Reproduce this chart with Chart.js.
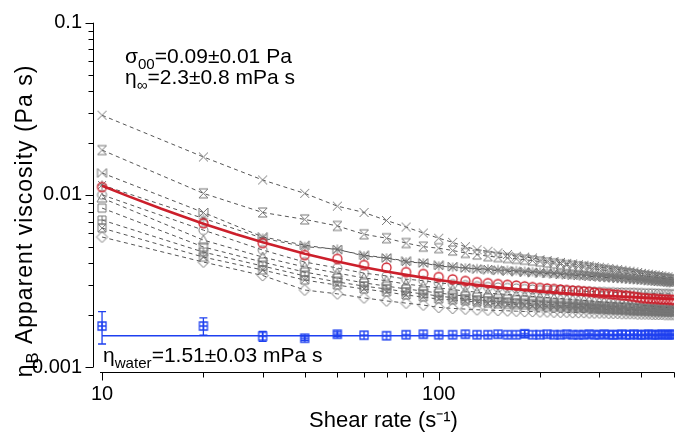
<!DOCTYPE html>
<html><head><meta charset="utf-8">
<script src="https://cdn.jsdelivr.net/npm/chart.js@4/dist/chart.umd.min.js"></script>
<style>html,body{margin:0;padding:0;background:#fff;}canvas{display:block;}</style>
</head><body>
<canvas id="c" width="683" height="434"></canvas>
<script>
const FONT = '"Liberation Sans", Arial, Helvetica, sans-serif';

// ---- data ----
const shearRate = [10,20,30,40,50,60,70,80,90,100,110,120,130,140,150,160,170,180,190,200,
  210,220,230,240,250,260,270,280,290,300,310,320,330,340,350,360,370,380,390,400,
  410,420,430,440,450,460,470,480,490,500];

const sampleCross = [0.0290,0.0166,0.0122,0.0102,0.0086,0.0079,0.0071,0.0065,0.0060,0.0056,
  0.0053,0.0050,0.0048,0.0047,0.0046,0.0045,0.0044,0.00435,0.0043,0.0042,
  0.00415,0.0041,0.00405,0.0040,0.00397,0.00393,0.0039,0.00387,0.00383,0.0038,
  0.00377,0.00374,0.0037,0.00368,0.00365,0.00362,0.0036,0.00357,0.00354,0.0035,
  0.00348,0.00346,0.00344,0.00342,0.0034,0.00338,0.00336,0.00334,0.00332,0.0033];
const sampleHourglass = [0.0182,0.0102,0.0079,0.0072,0.0066,0.0059,0.0056,0.00525,0.0050,0.0049,
  0.00475,0.0046,0.0045,0.0044,0.00435,0.0043,0.00425,0.0042,0.00415,0.0041,
  0.00405,0.0040,0.00395,0.0039,0.00387,0.00383,0.0038,0.00376,0.00372,0.00368,
  0.00365,0.00362,0.0036,0.00357,0.00354,0.00351,0.00349,0.00346,0.00343,0.0034,
  0.00338,0.00336,0.00334,0.00332,0.0033,0.00328,0.00326,0.00324,0.00322,0.0032];
const sampleBowtie = [0.0134,0.0079,0.0057,0.0051,0.0048,0.00447,0.0043,0.00413,0.00402,0.00391,
  0.00383,0.00376,0.0037,0.00366,0.00363,0.0036,0.00357,0.00355,0.00353,0.00351,
  0.00349,0.00347,0.00345,0.00343,0.00341,0.0034,0.00338,0.00336,0.00335,0.00333,
  0.00331,0.0033,0.00329,0.00327,0.00326,0.00325,0.00323,0.00322,0.00321,0.0032,
  0.00319,0.00317,0.00316,0.00315,0.00314,0.00313,0.00312,0.0031,0.00309,0.00308];
const sampleStar = [0.0114,0.0073,0.0056,0.0050,0.00484,0.00441,0.0043,0.00407,0.00402,0.00386,
  0.0038,0.00376,0.00373,0.00371,0.00368,0.00365,0.00363,0.0036,0.00358,0.00356,
  0.00354,0.00352,0.0035,0.00348,0.00346,0.00345,0.00343,0.00341,0.0034,0.00338,
  0.00336,0.00335,0.00334,0.00332,0.00331,0.0033,0.00328,0.00327,0.00325,0.00324,
  0.00323,0.00322,0.0032,0.00319,0.00318,0.00317,0.00316,0.00314,0.00313,0.00312];
const sampleCircle = [0.0100,0.00624,0.00478,0.00407,0.00376,0.00351,0.00338,0.00324,0.00317,0.00308,
  0.00303,0.00299,0.00295,0.00292,0.0029,0.00288,0.00286,0.00284,0.00282,0.0028,
  0.00279,0.00279,0.00278,0.00277,0.00277,0.00276,0.00275,0.00275,0.00274,0.00273,
  0.00273,0.00272,0.00272,0.00271,0.00271,0.0027,0.0027,0.0027,0.00269,0.00269,
  0.00268,0.00268,0.00268,0.00267,0.00267,0.00266,0.00266,0.00266,0.00265,0.00265];
const sampleTriangle = [0.00958,0.00546,0.00435,0.00381,0.00351,0.00329,0.00317,0.00303,0.00295,0.00288,
  0.00282,0.00276,0.00272,0.00269,0.00266,0.00264,0.00261,0.00259,0.00257,0.00255,
  0.00253,0.00251,0.0025,0.00248,0.00247,0.00245,0.00244,0.00242,0.00241,0.00239,
  0.00238,0.00237,0.00236,0.00235,0.00234,0.00233,0.00232,0.00231,0.0023,0.00229,
  0.00228,0.00227,0.00226,0.00225,0.00224,0.00223,0.00222,0.00222,0.00221,0.0022];
const sampleSquare = [0.00838,0.00498,0.00407,0.00356,0.00329,0.00308,0.00295,0.00284,0.00276,0.00269,
  0.00263,0.00258,0.00255,0.00252,0.0025,0.00248,0.00246,0.00244,0.00241,0.00239,
  0.00238,0.00236,0.00235,0.00234,0.00233,0.00231,0.0023,0.00229,0.00227,0.00226,
  0.00226,0.00225,0.00224,0.00224,0.00223,0.00223,0.00222,0.00221,0.00221,0.0022,
  0.00219,0.00219,0.00218,0.00218,0.00217,0.00216,0.00216,0.00215,0.00215,0.00214];
const sampleSquarePlus = [0.00714,0.00465,0.00386,0.00338,0.00312,0.00295,0.00284,0.00273,0.00266,0.00258,
  0.00253,0.00248,0.00245,0.00242,0.0024,0.00238,0.00236,0.00235,0.00233,0.00232,
  0.00231,0.0023,0.00228,0.00227,0.00226,0.00225,0.00224,0.00223,0.00221,0.0022,
  0.0022,0.00219,0.00219,0.00218,0.00217,0.00217,0.00216,0.00215,0.00215,0.00214,
  0.00214,0.00214,0.00213,0.00213,0.00213,0.00212,0.00212,0.00212,0.00211,0.00211];
const sampleSquareX = [0.00641,0.00435,0.00366,0.0032,0.00299,0.00284,0.00273,0.00262,0.00255,0.00248,
  0.00245,0.00242,0.00238,0.00235,0.00233,0.00231,0.0023,0.00229,0.00227,0.00226,
  0.00225,0.00224,0.00223,0.00222,0.00221,0.00221,0.0022,0.00219,0.00218,0.00217,
  0.00216,0.00216,0.00215,0.00215,0.00214,0.00213,0.00213,0.00212,0.00212,0.00211,
  0.00211,0.00211,0.0021,0.0021,0.0021,0.0021,0.00209,0.00209,0.00209,0.00209];
const sampleDiamond = [0.00569,0.00407,0.0034,0.0028,0.00266,0.00252,0.00242,0.00235,0.00229,0.00222,
  0.00219,0.00217,0.00215,0.00214,0.00213,0.00212,0.00211,0.0021,0.0021,0.00209,
  0.00209,0.00208,0.00208,0.00208,0.00207,0.00207,0.00207,0.00206,0.00206,0.00206,
  0.00206,0.00205,0.00205,0.00205,0.00204,0.00204,0.00204,0.00204,0.00203,0.00203,
  0.00203,0.00203,0.00202,0.00202,0.00202,0.00202,0.00201,0.00201,0.00201,0.00201];

const averageBlood = [0.0111,0.00685,0.00525,0.00447,0.00425,0.00391,0.00378,0.00356,0.00347,0.00333,
  0.00323,0.00316,0.00311,0.00307,0.00303,0.0030,0.00297,0.00294,0.00291,0.00288,
  0.00286,0.00284,0.00282,0.0028,0.00278,0.00277,0.00275,0.00273,0.00271,0.00269,
  0.00267,0.00266,0.00264,0.00263,0.00261,0.0026,0.00258,0.00256,0.00254,0.00252,
  0.00251,0.0025,0.00249,0.00249,0.00248,0.00247,0.00247,0.00246,0.00246,0.00245];

const fitShearRate = [10,12,15,20,25,30,40,50,60,70,80,100,120,150,200,250,300,400,500];
const fitViscosity = [0.0113,0.0098,0.0083,0.0068,0.0059,0.0053,0.00455,0.0041,0.0038,0.00359,0.00343,
  0.0032,0.00305,0.0029,0.00275,0.00266,0.0026,0.00253,0.00248];

const water = [0.00173,0.00173,0.00151,0.00147,0.00155,0.00153,0.00152,0.00154,0.00155,0.00154,
  0.00154,0.00155,0.00154,0.00154,0.00155,0.00154,0.00154,0.00156,0.00154,0.00154,
  0.00155,0.00154,0.00154,0.00155,0.00154,0.00154,0.00154,0.00155,0.00154,0.00154,
  0.00155,0.00154,0.00154,0.00154,0.00155,0.00154,0.00154,0.00155,0.00154,0.00154,
  0.00154,0.00155,0.00154,0.00154,0.00154,0.00155,0.00154,0.00154,0.00155,0.00154];
const waterError = [0.00037,0.0002,0.0001,0.00004,0.00005,0,0,0,0,0,
  0,0,0,0,0,0,0,0.00007,0,0,
  0,0,0,0,0,0,0,0,0,0,
  0,0,0,0,0,0,0,0,0,0,
  0,0,0,0,0,0,0,0,0,0];
const waterFitX = [10, 500];
const waterFitY = [0.00152, 0.00152];

const xTickLabels = [10, 100];
const yTickLabels = [0.001, 0.01, 0.1];

// ---- marker glyphs ----
function marker(type, color, size, lw) {
  const W = size + 4;
  const c = document.createElement('canvas');
  c.width = W; c.height = W;
  const g = c.getContext('2d');
  g.strokeStyle = color; g.lineWidth = lw;
  g.translate(W / 2, W / 2);
  const h = size / 2;
  g.beginPath();
  switch (type) {
    case 'x': g.moveTo(-h,-h); g.lineTo(h,h); g.moveTo(h,-h); g.lineTo(-h,h); break;
    case 'hourglass': g.moveTo(-h,-h); g.lineTo(h,-h); g.lineTo(-h,h); g.lineTo(h,h); g.closePath(); break;
    case 'bowtie': g.moveTo(-h,-h); g.lineTo(-h,h); g.lineTo(h,-h); g.lineTo(h,h); g.closePath(); break;
    case 'star': g.moveTo(-h,-h); g.lineTo(h,h); g.moveTo(h,-h); g.lineTo(-h,h);
                 g.moveTo(0,-h*1.15); g.lineTo(0,h*1.15); g.moveTo(-h*1.15,0); g.lineTo(h*1.15,0); break;
    case 'circle': g.arc(0,0,h,0,Math.PI*2); break;
    case 'triangle': g.moveTo(0,-h); g.lineTo(h,h*0.8); g.lineTo(-h,h*0.8); g.closePath(); break;
    case 'square': g.rect(-h,-h,2*h,2*h); break;
    case 'squarePlus': g.rect(-h,-h,2*h,2*h); g.moveTo(0,-h); g.lineTo(0,h); g.moveTo(-h,0); g.lineTo(h,0); break;
    case 'squareX': g.rect(-h,-h,2*h,2*h); g.moveTo(-h,-h); g.lineTo(h,h); g.moveTo(h,-h); g.lineTo(-h,h); break;
    case 'diamond': g.moveTo(0,-h); g.lineTo(h,0); g.lineTo(0,h); g.lineTo(-h,0); g.closePath(); break;
  }
  g.stroke();
  return c;
}

const GRAY = '#777777';
const DASH = '#555555';
const RED = '#cc1f2b';
const BLUE = '#1e40f0';

function pts(xs, ys) { return xs.map((x, i) => ({ x: x, y: ys[i] })); }

function graySet(label, values, style, size) {
  return {
    label: label, data: pts(shearRate, values), showLine: true,
    borderColor: DASH, borderWidth: 1, borderDash: [4, 3.5],
    pointStyle: marker(style, GRAY, size, 1), pointRadius: 5,
    backgroundColor: 'rgba(0,0,0,0)', fill: false, tension: 0
  };
}

const datasets = [
  { label: 'fit', data: pts(fitShearRate, fitViscosity), showLine: true, borderColor: RED,
    borderWidth: 2.6, pointRadius: 0, fill: false, tension: 0 },
  { label: 'average', data: pts(shearRate, averageBlood), showLine: false,
    pointStyle: marker('circle', RED, 9, 1.3), pointRadius: 5 },
  { label: 'water fit', data: pts(waterFitX, waterFitY), showLine: true, borderColor: BLUE,
    borderWidth: 1.4, pointRadius: 0, fill: false },
  { label: 'water', data: pts(shearRate, water), showLine: false,
    pointStyle: marker('squarePlus', BLUE, 8, 1.3), pointRadius: 5 },
  graySet('s1', sampleCross, 'x', 9),
  graySet('s2', sampleHourglass, 'hourglass', 9),
  graySet('s3', sampleBowtie, 'bowtie', 9),
  graySet('s4', sampleStar, 'star', 8),
  graySet('s5', sampleCircle, 'circle', 9),
  graySet('s6', sampleTriangle, 'triangle', 10),
  graySet('s7', sampleSquare, 'square', 8),
  graySet('s8', sampleSquarePlus, 'squarePlus', 8),
  graySet('s9', sampleSquareX, 'squareX', 8),
  graySet('s10', sampleDiamond, 'diamond', 11)
];

function rich(ctx, x, y, parts, size) {
  let cx = x;
  for (const p of parts) {
    const sub = p[1] === 'sub';
    const fs = sub ? size * 0.72 : size;
    ctx.font = fs + 'px ' + FONT;
    ctx.fillText(p[0], cx, y + (sub ? size * 0.27 : 0));
    cx += ctx.measureText(p[0]).width;
  }
  return cx - x;
}
function richWidth(ctx, parts, size) {
  let w = 0;
  for (const p of parts) {
    const fs = p[1] === 'sub' ? size * 0.72 : size;
    ctx.font = fs + 'px ' + FONT;
    w += ctx.measureText(p[0]).width;
  }
  return w;
}

const deco = {
  id: 'deco',
  afterDatasetsDraw(chart) {
    const ctx = chart.ctx, xs = chart.scales.x, ys = chart.scales.y;
    ctx.save();
    ctx.strokeStyle = BLUE; ctx.lineWidth = 1.3;
    shearRate.forEach((x, i) => {
      const e = waterError[i];
      if (!e) return;
      const px = xs.getPixelForValue(x);
      const y1 = ys.getPixelForValue(water[i] + e), y2 = ys.getPixelForValue(water[i] - e);
      ctx.beginPath();
      ctx.moveTo(px, y1); ctx.lineTo(px, y2);
      ctx.moveTo(px - 4, y1); ctx.lineTo(px + 4, y1);
      ctx.moveTo(px - 4, y2); ctx.lineTo(px + 4, y2);
      ctx.stroke();
    });
    ctx.restore();
  },
  afterDraw(chart) {
    const ctx = chart.ctx, xs = chart.scales.x, ys = chart.scales.y, ca = chart.chartArea;
    ctx.save();
    ctx.strokeStyle = '#000'; ctx.lineWidth = 1;
    // y axis
    const ax = Math.round(ca.left) + 0.5;
    ctx.beginPath();
    ctx.moveTo(ax, ys.getPixelForValue(0.1)); ctx.lineTo(ax, ys.getPixelForValue(0.001));
    for (let e = -3; e <= -1; e++) {
      for (let m = 1; m <= 9; m++) {
        const v = m * Math.pow(10, e);
        if (v > 0.1 + 1e-9) break;
        const py = Math.round(ys.getPixelForValue(v)) + 0.5;
        const len = m === 1 ? 8 : 5;
        ctx.moveTo(ax - len, py); ctx.lineTo(ax, py);
      }
    }
    ctx.stroke();
    // x axis (offset below plot)
    const ay = Math.round(ca.bottom) + 5.5;
    ctx.beginPath();
    ctx.moveTo(100, ay); ctx.lineTo(xs.getPixelForValue(500) + 0.5, ay);
    const xt = [10,20,30,40,50,60,70,80,90,100,200,300,400,500];
    xt.forEach(v => {
      const px = Math.round(xs.getPixelForValue(v)) + 0.5;
      const len = (v === 10 || v === 100) ? 8 : 5;
      ctx.moveTo(px, ay); ctx.lineTo(px, ay + len);
    });
    ctx.stroke();

    // annotations
    ctx.fillStyle = '#000';
    ctx.textBaseline = 'alphabetic'; ctx.textAlign = 'left';
    rich(ctx, 125, 63, [['σ','n'],['00','sub'],['=0.09±0.01 Pa','n']], 21);
    rich(ctx, 125, 84, [['η','n'],['∞','sub'],['=2.3±0.8 mPa s','n']], 21);
    rich(ctx, 103, 362, [['η','n'],['water','sub'],['=1.51±0.03 mPa s','n']], 21);

    // y title
    ctx.letterSpacing = '1px';
    const tparts = [['η','n'],['B','sub'],[' Apparent viscosity (Pa s)','n']];
    const tw = richWidth(ctx, tparts, 23);
    ctx.translate(32, 221 + tw / 2);
    ctx.rotate(-Math.PI / 2);
    rich(ctx, 0, 0, tparts, 23);
    ctx.restore();
  }
};

function isDecade(v) { const l = Math.log10(v); return Math.abs(l - Math.round(l)) < 1e-6; }

new Chart(document.getElementById('c'), {
  type: 'scatter',
  data: { datasets: datasets },
  plugins: [deco],
  options: {
    responsive: false, animation: false, devicePixelRatio: 1,
    layout: { padding: { left: 0, right: 9, top: 22.7, bottom: 0 } },
    plugins: { legend: { display: false }, tooltip: { enabled: false } },
    scales: {
      x: {
        type: 'logarithmic', min: 9.4, max: 500,
        afterFit(s) { s.height = 67; },
        afterBuildTicks(s) { s.ticks = xTickLabels.map(v => ({ value: v, major: true })); },
        grid: { display: true, drawOnChartArea: false, drawTicks: true, tickLength: 8, color: 'rgba(0,0,0,0)' },
        border: { display: false },
        ticks: { autoSkip: false, maxRotation: 0, padding: 7, color: '#000',
                 font: { size: 20, family: FONT }, callback: v => String(v) },
        title: { display: true, text: 'Shear rate (s⁻¹)', color: '#000',
                 font: { size: 22, family: FONT }, padding: { top: 0, bottom: 0 } }
      },
      y: {
        type: 'logarithmic', min: 0.001, max: 0.1,
        afterFit(s) { s.width = 93; },
        afterBuildTicks(s) { s.ticks = yTickLabels.map(v => ({ value: v, major: true })); },
        grid: { display: true, drawOnChartArea: false, drawTicks: true, tickLength: 8, color: 'rgba(0,0,0,0)' },
        border: { display: false },
        ticks: { autoSkip: false, padding: 3, color: '#000',
                 font: { size: 20, family: FONT }, callback: v => isDecade(v) ? String(v) : '' }
      }
    }
  }
});
</script>
</body></html>
